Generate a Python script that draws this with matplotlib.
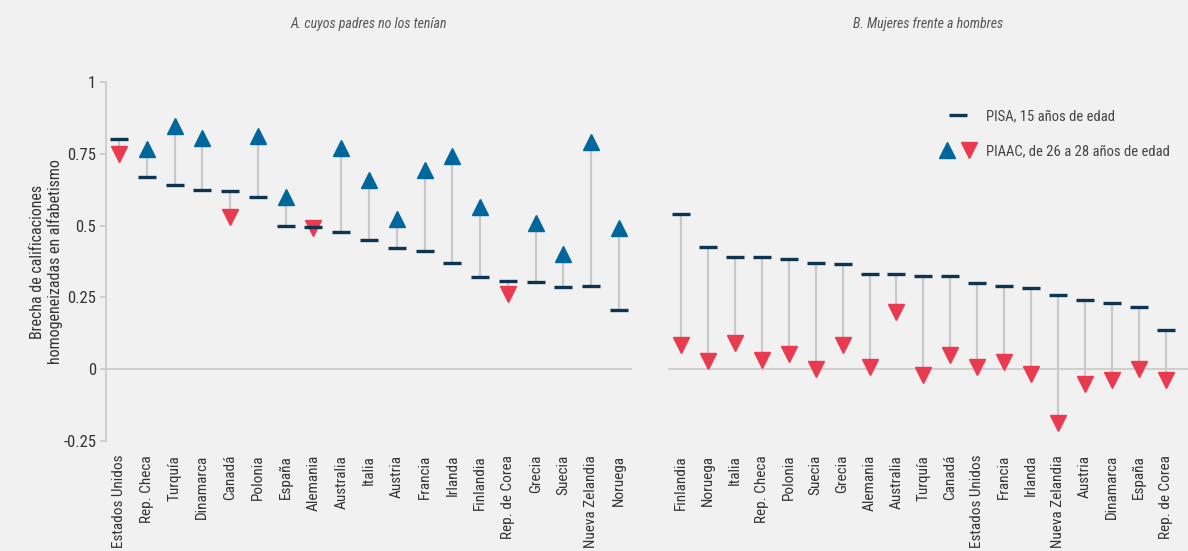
import matplotlib
matplotlib.use("Agg")
import matplotlib.pyplot as plt
from matplotlib import font_manager
from matplotlib.lines import Line2D
from matplotlib.legend_handler import HandlerTuple

# pick a narrow font if there is one
names = set(f.name for f in font_manager.fontManager.ttflist)
font = 'DejaVu Sans'
for f in ['Liberation Sans Narrow', 'Roboto Condensed', 'Open Sans Condensed', 'Noto Sans Display']:
    if f in names:
        font = f
        break
plt.rcParams['font.family'] = [font, 'DejaVu Sans']

# Panel A: cuyos padres no los tenían
countries_a = ["Estados Unidos", "Rep. Checa", "Turquía", "Dinamarca", "Canadá", "Polonia",
               "España", "Alemania", "Australia", "Italia", "Austria", "Francia", "Irlanda",
               "Finlandia", "Rep. de Corea", "Grecia", "Suecia", "Nueva Zelandia", "Noruega"]
pisa_a = [0.80, 0.668, 0.641, 0.624, 0.619, 0.60, 0.499, 0.494, 0.477, 0.451, 0.421,
          0.412, 0.370, 0.321, 0.308, 0.302, 0.285, 0.289, 0.207]
piaac_a = [0.748, 0.767, 0.846, 0.805, 0.531, 0.812, 0.60, 0.49, 0.77, 0.66, 0.523,
           0.693, 0.743, 0.564, 0.263, 0.508, 0.402, 0.792, 0.49]

# Panel B: mujeres frente a hombres
countries_b = ["Finlandia", "Noruega", "Italia", "Rep. Checa", "Polonia", "Suecia", "Grecia",
               "Alemania", "Australia", "Turquía", "Canadá", "Estados Unidos", "Francia",
               "Irlanda", "Nueva Zelandia", "Austria", "Dinamarca", "España", "Rep. de Corea"]
pisa_b = [0.539, 0.424, 0.392, 0.390, 0.384, 0.370, 0.365, 0.331, 0.331, 0.323, 0.326,
          0.300, 0.288, 0.282, 0.260, 0.240, 0.232, 0.218, 0.137]
piaac_b = [0.085, 0.030, 0.090, 0.032, 0.052, 0.002, 0.083, 0.009, 0.20, -0.02, 0.05,
           0.009, 0.025, -0.018, -0.188, -0.053, -0.039, 0.0, -0.039]

titles = ["A. cuyos padres no los tenían", "B. Mujeres frente a hombres"]
yticks = [-0.25, 0, 0.25, 0.5, 0.75, 1]
ytick_labels = ["-0.25", "0", "0.25", "0.5", "0.75", "1"]

bg = '#f1f1f1'
navy = '#0d3552'
blue = '#00679c'
red = '#ea3a50'
stem = '#c9c9c9'
grey = '#cccccc'
txt = '#333333'

fig = plt.figure(figsize=(11.88, 5.51), dpi=100, facecolor=bg)
ax1 = fig.add_axes([106 / 1188, 0.1996, 526 / 1188, 0.6516], facecolor=bg)
ax2 = fig.add_axes([668 / 1188, 0.1996, 520 / 1188, 0.6516], facecolor=bg)


def draw(ax, names_, pisa, piaac, xlim, title):
    x = list(range(len(names_)))
    for i in x:
        ax.plot([i, i], [pisa[i], piaac[i]], color=stem, lw=1.6, zorder=1,
                solid_capstyle='butt')
    ups = [i for i in x if piaac[i] >= pisa[i]]
    downs = [i for i in x if piaac[i] < pisa[i]]
    ax.plot(ups, [piaac[i] for i in ups], ls='none', marker='^', ms=11,
            color=blue, mec=blue, zorder=3, clip_on=False)
    ax.plot(downs, [piaac[i] for i in downs], ls='none', marker='v', ms=11,
            color=red, mec=red, zorder=3, clip_on=False)
    ax.plot(x, pisa, ls='none', marker='_', ms=12.5, mew=2.4, color=navy,
            zorder=4, clip_on=False)
    ax.axhline(0, color=grey, lw=1.3, zorder=0)
    ax.set_xlim(*xlim)
    ax.set_ylim(-0.25, 1)
    ax.set_xticks(x)
    ax.set_xticklabels(names_, rotation=90, fontsize=11, color=txt)
    ax.tick_params(axis='x', length=0, pad=10)
    for s in ['top', 'right', 'bottom']:
        ax.spines[s].set_visible(False)
    ax.text(0.5, 1.162, title, transform=ax.transAxes, ha='center', va='center',
            fontsize=10, style='italic', color='#555555')


draw(ax1, countries_a, pisa_a, piaac_a, (-0.47, 18.47), titles[0])
draw(ax2, countries_b, pisa_b, piaac_b, (-0.48, 18.82), titles[1])

ax1.spines['left'].set_color(grey)
ax1.spines['left'].set_linewidth(1.3)
ax1.set_yticks(yticks)
ax1.set_yticklabels(ytick_labels, fontsize=12, color=txt)
ax1.tick_params(axis='y', length=4, color=grey, width=1.3, pad=3)
ax1.set_ylabel("Brecha de calificaciones\nhomogeneizadas en alfabetismo",
               fontsize=11.5, color=txt, labelpad=0)

ax2.spines['left'].set_visible(False)
ax2.set_yticks([])

h_pisa = Line2D([], [], ls='none', marker='_', ms=12.5, mew=2.4, color=navy)
h_up = Line2D([], [], ls='none', marker='^', ms=11, color=blue)
h_down = Line2D([], [], ls='none', marker='v', ms=11, color=red)
ax2.legend([h_pisa, (h_up, h_down)],
           ["PISA, 15 años de edad", "PIAAC, de 26 a 28 años de edad"],
           handler_map={tuple: HandlerTuple(ndivide=None, pad=0.4)},
           loc='upper left', bbox_to_anchor=(932 / 1188, 1 - 102 / 551),
           bbox_transform=fig.transFigure, frameon=False, fontsize=10.5,
           labelspacing=1.45, handlelength=2.6,
           handletextpad=0.6, borderpad=0, markerfirst=True)
leg = ax2.get_legend()
for t in leg.get_texts():
    t.set_color('#444444')

fig.savefig("out.png", dpi=100, facecolor=bg)
